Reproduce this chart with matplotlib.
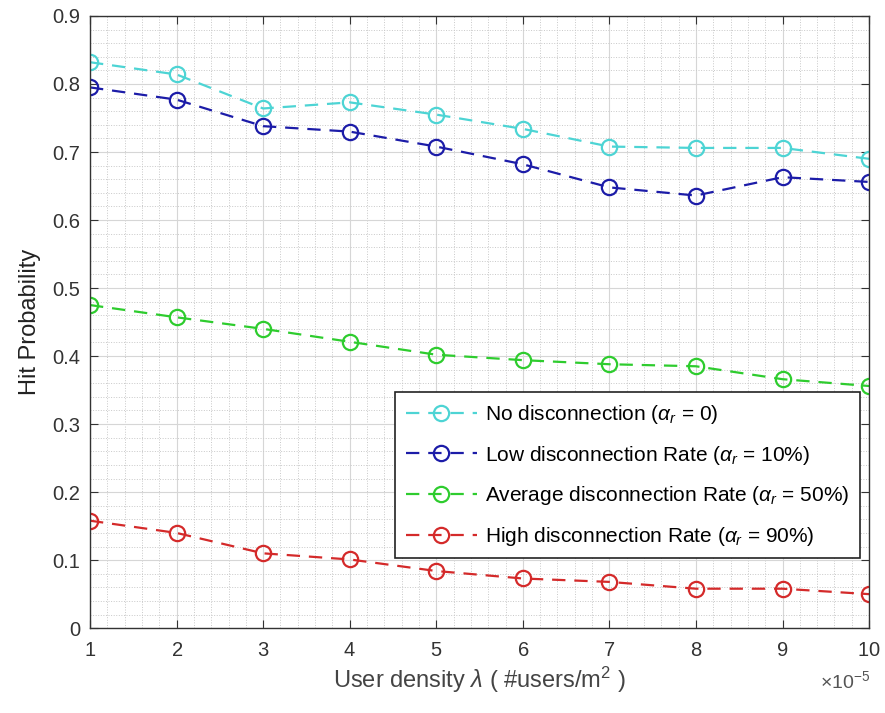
import numpy as np
import matplotlib
matplotlib.use('Agg')
import matplotlib.pyplot as plt
from matplotlib.ticker import AutoMinorLocator, ScalarFormatter, MultipleLocator

plt.rcParams['font.family'] = ['Liberation Sans', 'DejaVu Sans']
plt.rcParams['mathtext.fontset'] = 'custom'
plt.rcParams['mathtext.rm'] = 'Liberation Sans'
plt.rcParams['mathtext.it'] = 'Liberation Sans:italic'


class FixedOrderFormatter(ScalarFormatter):
    """scientific ticks with a fixed order of magnitude"""
    def __init__(self, order_of_mag=0, useMathText=True):
        self._order_of_mag = order_of_mag
        ScalarFormatter.__init__(self, useOffset=True, useMathText=useMathText)

    def _set_order_of_magnitude(self):
        self.orderOfMagnitude = self._order_of_mag


# user density (#users/m^2)
density = np.arange(1, 11) * 1e-5

no_disc = [0.832, 0.814, 0.764, 0.773, 0.755, 0.734, 0.708, 0.706, 0.706, 0.690]
low_disc = [0.795, 0.777, 0.738, 0.730, 0.708, 0.682, 0.648, 0.636, 0.663, 0.656]
avg_disc = [0.475, 0.457, 0.440, 0.421, 0.402, 0.394, 0.388, 0.385, 0.366, 0.356]
high_disc = [0.158, 0.140, 0.110, 0.101, 0.084, 0.073, 0.068, 0.058, 0.058, 0.050]

labels = [r'No disconnection ($\alpha_r$ = 0)',
          r'Low disconnection Rate ($\alpha_r$ = 10%)',
          r'Average disconnection Rate ($\alpha_r$ = 50%)',
          r'High disconnection Rate ($\alpha_r$ = 90%)']
colors = ['#4dd4d4', '#1c1ca8', '#2ecc2e', '#d42a2a']

fig = plt.figure(figsize=(8.85, 7.13), dpi=100)
ax = fig.add_axes([0.1017, 0.119, 0.8803, 0.8586])

for y, lab, c in zip([no_disc, low_disc, avg_disc, high_disc], labels, colors):
    ax.plot(density, y, '--o', color=c, fillstyle='none', markersize=11,
            markeredgewidth=1.6, linewidth=1.6, dashes=(6, 4), label=lab)

ax.set_xlim(1e-5, 10e-5)
ax.set_ylim(0, 0.9)
ax.xaxis.set_major_locator(MultipleLocator(1e-5))
ax.yaxis.set_major_locator(MultipleLocator(0.1))
ax.xaxis.set_minor_locator(AutoMinorLocator(5))
ax.yaxis.set_minor_locator(AutoMinorLocator(5))
ax.xaxis.set_major_formatter(FixedOrderFormatter(-5))
ax.yaxis.set_major_formatter(matplotlib.ticker.FormatStrFormatter('%g'))
# offset drawn by hand, lower, like matlab does
ax.xaxis.get_offset_text().set_visible(False)
fig.text(0.983, 0.03, r'$\times10^{-5}$', ha='right', va='bottom', fontsize=14, color='#555555')

ax.grid(which='major', color='#d6d6d6', linewidth=0.8)
ax.grid(which='minor', color='#c8c8c8', linestyle=':', linewidth=0.7)
ax.set_axisbelow(True)
ax.tick_params(which='both', direction='in', top=True, right=True, labelsize=14.5, colors='#333333')
ax.tick_params(axis='x', pad=9)
ax.tick_params(axis='y', pad=7)
ax.tick_params(which='minor', length=0)
ax.tick_params(which='major', length=6)
for s in ax.spines.values():
    s.set_color('#333333')
    s.set_linewidth(1.0)

ax.set_xlabel(r'User density $\lambda$ ( #users/m$^2$ )', fontsize=17, color='#444444', labelpad=4)
ax.set_ylabel('Hit Probability', fontsize=17, color='#222222', labelpad=8)

leg = ax.legend(loc='upper right', bbox_to_anchor=(0.988, 0.385), fontsize=15,
                fancybox=False, edgecolor='#222222', framealpha=1,
                borderaxespad=0, handlelength=3.4, handletextpad=0.4,
                labelspacing=0.85, borderpad=0.5)
leg.get_frame().set_linewidth(1.2)

fig.savefig('out.png', dpi=100)
